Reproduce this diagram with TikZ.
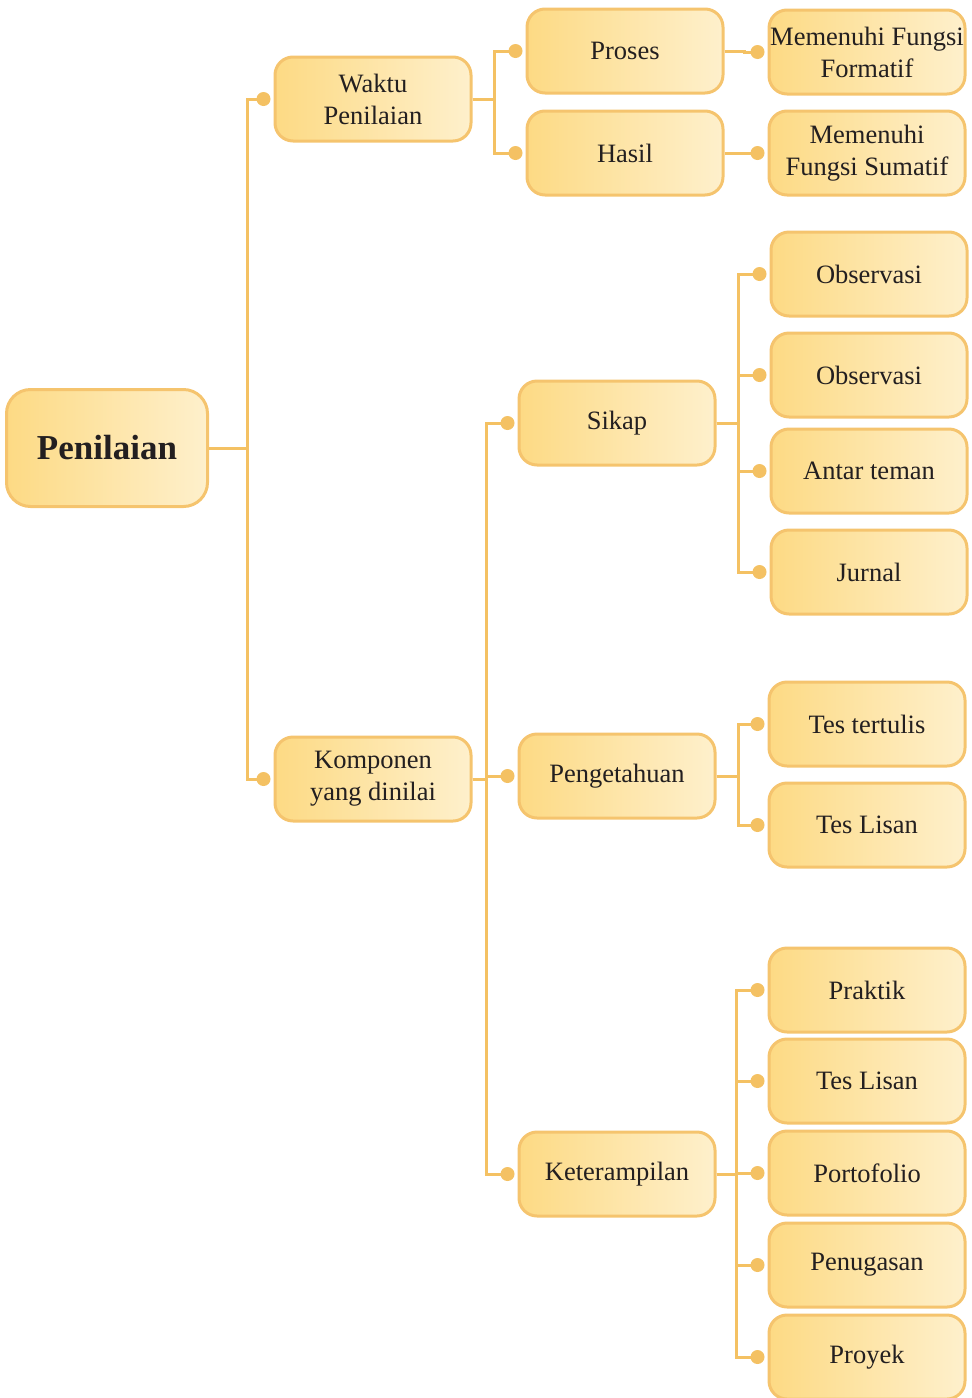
\documentclass[tikz,border=0pt]{standalone}
\usepackage{fontspec}
\setmainfont{Liberation Serif}
\usetikzlibrary{positioning,calc}
\definecolor{linkc}{HTML}{F4C163}
\definecolor{boxl}{HTML}{FDDA84}
\definecolor{boxr}{HTML}{FEF0CC}
\definecolor{rimc}{HTML}{F5C46E}
\definecolor{inkc}{HTML}{231F20}

\begin{document}
\begin{tikzpicture}[x=1pt,y=-1pt,
    box/.style={draw=rimc,line width=3pt,rounded corners=18pt,
      left color=boxl,right color=boxr,minimum width=196pt,
      minimum height=84pt,align=center,text=inkc,inner sep=0pt,
      font=\fontsize{26.5}{32}\selectfont},
    link/.style={draw=linkc,line width=3pt},
    dot/.style={fill=linkc}]
  \useasboundingbox (0,0) rectangle (972,1398);
  % root and first level
  \node[box,minimum width=201pt,minimum height=117pt,rounded corners=24pt,
    font=\fontsize{35}{40}\selectfont\bfseries] (penilaian) at (107,448) {Penilaian};
  \node[box] (waktu) at (373,99) {Waktu\\Penilaian};
  \node[box] (komponen) at (373,779) {Komponen\\yang dinilai};
  % waktu penilaian
  \node[box] (proses) at (625,51) {Proses};
  \node[box] (hasil) at (625,153) {Hasil};
  \node[box] (formatif) at (867,52) {Memenuhi Fungsi\\Formatif};
  \node[box] (sumatif) at (867,153) {Memenuhi\\Fungsi Sumatif};
  % komponen
  \node[box] (sikap) at (617,423) {Sikap};
  \node[box] (pengetahuan) at (617,776) {Pengetahuan};
  \node[box] (keterampilan) at (617,1174) {Keterampilan};
  \node[box] (obs1) at (869,274) {Observasi};
  \node[box] (obs2) at (869,375) {Observasi};
  \node[box] (antar) at (869,471) {Antar teman};
  \node[box] (jurnal) at (869,572) {Jurnal};
  \node[box] (tulis) at (867,724) {Tes tertulis};
  \node[box] (lisan1) at (867,825) {Tes Lisan};
  \node[box] (praktik) at (867,990) {Praktik};
  \node[box] (lisan2) at (867,1081) {Tes Lisan};
  \node[box] (porto) at (867,1173) {Portofolio};
  \node[box] (tugas) at (867,1265) {Penugasan};
  \node[box] (proyek) at (867,1357) {Proyek};
  % connectors
  \foreach \p/\c/\g in {penilaian/waktu/38,penilaian/komponen/38,
      waktu/proses/22,waktu/hasil/22,proses/formatif/20,hasil/sumatif/20,
      komponen/sikap/14,komponen/pengetahuan/14,komponen/keterampilan/14,
      sikap/obs1/22,sikap/obs2/22,sikap/antar/22,sikap/jurnal/22,
      pengetahuan/tulis/22,pengetahuan/lisan1/22,
      keterampilan/praktik/20,keterampilan/lisan2/20,keterampilan/porto/20,
      keterampilan/tugas/20,keterampilan/proyek/20}
    {\draw[link] (\p.east) -- ++(\g,0) |- ($(\c.west)+(-10,0)$) coordinate (d);
     \fill[dot] (d) circle (7pt);}
\end{tikzpicture}
\end{document}
